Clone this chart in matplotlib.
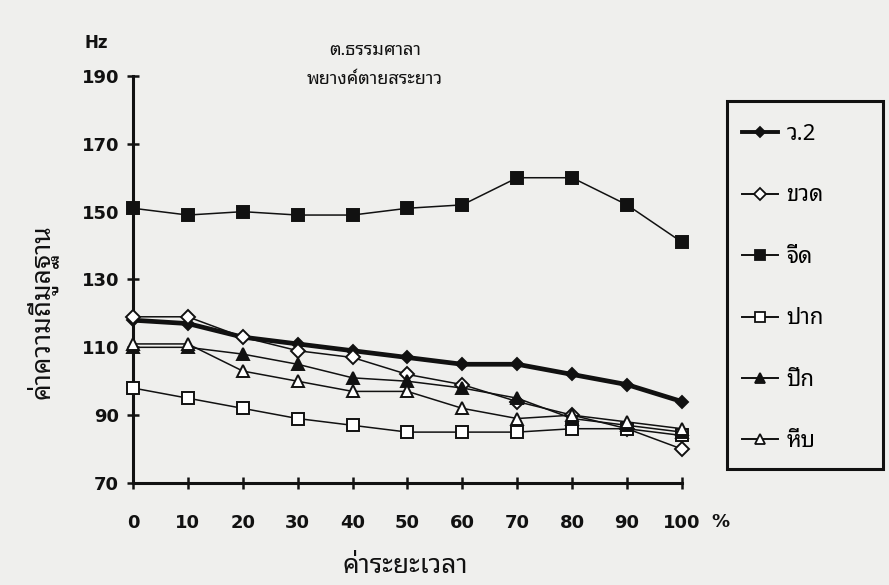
import matplotlib
matplotlib.use("Agg")
import matplotlib.pyplot as plt
from matplotlib.patches import Rectangle
from matplotlib.lines import Line2D

THAI = ["Noto Sans Thai Looped", "DejaVu Sans"]

# time points (%)
x = [0, 10, 20, 30, 40, 50, 60, 70, 80, 90, 100]

# fundamental frequency (Hz) per position
v2 = [118, 117, 113, 111, 109, 107, 105, 105, 102, 99, 94]
khuat = [119, 119, 113, 109, 107, 102, 99, 94, 90, 86, 80]
chuet = [151, 149, 150, 149, 149, 151, 152, 160, 160, 152, 141]
pak = [98, 95, 92, 89, 87, 85, 85, 85, 86, 86, 84]
puek = [110, 110, 108, 105, 101, 100, 98, 95, 89, 87, 85]
heep = [111, 111, 103, 100, 97, 97, 92, 89, 90, 88, 86]

labels = ["ว.2", "ขวด", "จีด", "ปาก", "ปีก", "หีบ"]
yticks = [70, 90, 110, 130, 150, 170, 190]
xticks = [0, 10, 20, 30, 40, 50, 60, 70, 80, 90, 100]

bg = "#efefed"
fig = plt.figure(figsize=(8.89, 5.85), dpi=100, facecolor=bg)
ax = fig.add_axes([0.1496, 0.1744, 0.6175, 0.6957])
ax.set_facecolor(bg)

styles = [
    (v2, "D", "#111111", 3.4, 6),
    (khuat, "D", "white", 1.1, 7),
    (chuet, "s", "#111111", 1.1, 8),
    (pak, "s", "white", 1.1, 8),
    (puek, "^", "#111111", 1.1, 8),
    (heep, "^", "white", 1.1, 8),
]
handles = []
for (vals, mk, fc, lw, ms), lab in zip(styles, labels):
    ax.plot(x, vals, color="#111111", lw=lw, marker=mk, ms=ms, mfc=fc,
            mec="#111111", mew=1.4, clip_on=False, zorder=3)
    handles.append(Line2D([0], [0], color="#111111", lw=1.4 if lw < 2 else 2.8,
                          marker=mk, ms=ms - 1, mfc=fc, mec="#111111", mew=1.3))

ax.set_xlim(0, 100)
ax.set_ylim(70, 190)
ax.set_xticks(xticks)
ax.set_yticks(yticks)
ax.tick_params(direction="inout", length=8, width=1.8, labelsize=13, pad=18,
               colors="#111111")
ax.tick_params(axis="y", pad=6)
for lbl in ax.get_xticklabels() + ax.get_yticklabels():
    lbl.set_fontweight("bold")
for s in ["top", "right"]:
    ax.spines[s].set_visible(False)
for s in ["left", "bottom"]:
    ax.spines[s].set_linewidth(2.2)
    ax.spines[s].set_color("#111111")

# texts around the axes
fig.text(96 / 889, 1 - 43 / 585, "Hz", fontsize=12, fontweight="bold",
         ha="center", va="center", color="#111111")
fig.text(375 / 889, 1 - 50 / 585, "ต.ธรรมศาลา", family=THAI, fontsize=13,
         fontweight="bold", ha="center", va="center", color="#111111")
fig.text(375 / 889, 1 - 79 / 585, "พยางค์ตายสระยาว", family=THAI, fontsize=13,
         fontweight="bold", ha="center", va="center", color="#111111")
fig.text(42 / 889, 1 - 312 / 585, "ค่าความถี่มูลฐาน", family=THAI, fontsize=19,
         fontweight="bold", rotation=90, ha="center", va="center", color="#111111")
fig.text(405 / 889, 1 - 566 / 585, "ค่าระยะเวลา", family=THAI, fontsize=19,
         fontweight="bold", ha="center", va="center", color="#111111")
fig.text(720 / 889, 1 - 522 / 585, "%", fontsize=13, fontweight="bold",
         ha="center", va="center", color="#111111")

# legend box
fig.patches.append(Rectangle((727 / 889, 1 - 469 / 585), 156 / 889, 368 / 585,
                             transform=fig.transFigure, fill=False,
                             edgecolor="#111111", lw=2.2))
fig.legend(handles, labels, loc="upper left", bbox_to_anchor=(722 / 889, 1 - 104 / 585),
           frameon=False, handlelength=1.6, handletextpad=0.4, labelspacing=1.82,
           prop={"family": THAI, "size": 16})

fig.savefig("out.png", dpi=100, facecolor=bg)
